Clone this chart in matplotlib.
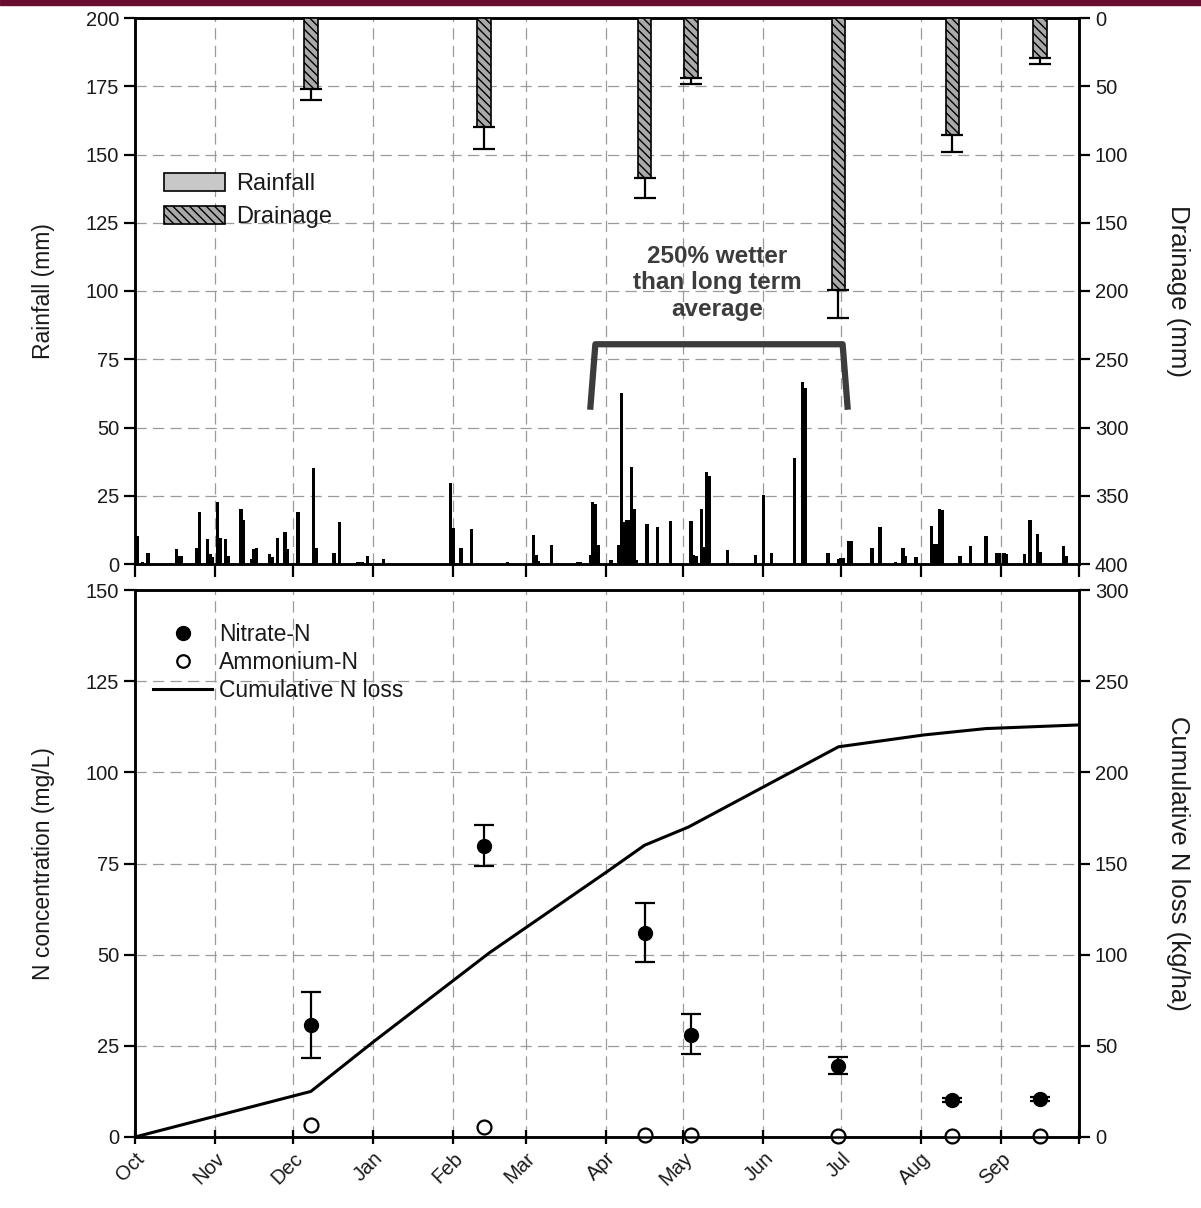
import matplotlib
matplotlib.use("Agg")
import matplotlib.pyplot as plt
import numpy as np
from matplotlib.patches import Patch, Rectangle
from matplotlib.lines import Line2D

plt.rcParams['font.family'] = ['Liberation Sans', 'DejaVu Sans']
plt.rcParams['hatch.linewidth'] = 1.0

# ---------------- data ----------------
month_labels = ["Oct", "Nov", "Dec", "Jan", "Feb", "Mar", "Apr", "May", "Jun", "Jul", "Aug", "Sep"]
month_start = [0, 31, 61, 92, 123, 151, 182, 212, 243, 273, 304, 335, 365]  # days since 1 Oct

rain_day = [1, 3, 5, 16, 17, 18, 24, 25, 28, 29, 30, 32, 33, 35, 36, 41, 42, 45, 46, 47,
            52, 53, 55, 58, 59, 63, 69, 70, 77, 79, 86, 87, 88, 90, 96, 122, 123, 126, 130,
            144, 154, 155, 156, 161, 171, 172, 176, 177, 178, 179, 184, 187, 188, 189, 190,
            191, 192, 193, 194, 198, 202, 207, 215, 216, 217, 219, 220, 221, 222, 229, 240,
            243, 246, 255, 258, 259, 268, 272, 273, 274, 276, 277, 285, 288, 294, 297, 298,
            302, 308, 309, 310, 311, 312, 319, 323, 329, 333, 334, 336, 337, 344, 346, 349,
            350, 359, 360]
rain_mm = [10.3, 0.6, 3.9, 5.4, 3.0, 3.0, 6.0, 19.0, 9.0, 3.6, 2.4, 22.7, 9.7, 9.0, 3.0,
           20.3, 16.3, 1.8, 5.4, 5.7, 3.6, 2.4, 9.7, 11.7, 5.4, 19.0, 35.0, 6.0, 3.9, 15.5,
           0.6, 0.6, 0.6, 3.0, 1.8, 29.6, 13.3, 6.0, 12.7, 0.8, 10.6, 3.4, 1.0, 7.0, 0.6,
           0.6, 3.4, 22.7, 22.0, 7.0, 1.3, 7.0, 62.6, 15.5, 16.0, 16.0, 35.4, 20.3, 1.6,
           14.5, 13.6, 15.8, 15.8, 3.4, 2.8, 20.3, 6.4, 33.8, 32.4, 5.0, 3.4, 25.4, 4.2,
           39.0, 66.5, 64.6, 4.2, 1.8, 2.2, 2.2, 8.6, 8.6, 5.8, 13.6, 0.6, 5.8, 2.8, 2.4,
           13.9, 7.2, 7.2, 20.3, 19.6, 3.0, 6.6, 10.3, 3.9, 3.9, 3.9, 3.6, 3.6, 16.3, 10.9,
           4.5, 6.6, 3.0]

event_day = [68, 135, 197, 215, 272, 316, 350]
drainage_mm = [52, 80, 117, 44, 199, 86, 29]
drainage_err = [8, 16, 15, 4, 21, 12, 5]

nitrate = [30.7, 79.9, 55.9, 28.0, 19.6, 10.1, 10.4]
nitrate_err_lo = [9.1, 5.5, 7.9, 5.2, 2.3, 0.6, 0.6]
nitrate_err_hi = [9.1, 5.6, 8.4, 5.7, 2.4, 0.6, 0.6]
ammonium = [3.3, 2.8, 0.6, 0.5, 0.4, 0.4, 0.3]

cum_day = [0, 68, 92, 137, 183, 197, 214, 272, 305, 329, 365]
cum_loss = [0, 25, 52, 101, 146, 160, 170, 214, 220.5, 224, 226]

# ---------------- figure ----------------
W, H = 1201, 1208
fig = plt.figure(figsize=(W / 100, H / 100), dpi=100)
fig.patches.append(Rectangle((0, 1 - 5 / H), 1, 5 / H, transform=fig.transFigure,
                             color='#6b0d30', zorder=10))

left, width = 135 / W, 944 / W
ax1 = fig.add_axes([left, 1 - 564 / H, width, 546 / H])
ax2 = ax1.twinx()
ax3 = fig.add_axes([left, 1 - 1137 / H, width, 547 / H])
ax4 = ax3.twinx()

txt = '#1a1a1a'
grid_kw = dict(color='#9a9a9a', linestyle=(0, (9, 5)), linewidth=0.9)
tick_fs = 14.5

for ax in (ax1, ax3):
    ax.set_xlim(0, 365)
    ax.set_xticks(month_start)
    ax.grid(True, **grid_kw)
    ax.set_axisbelow(True)

for ax in (ax1, ax2, ax3, ax4):
    for s in ax.spines.values():
        s.set_linewidth(1.8)
    ax.tick_params(labelsize=tick_fs, labelcolor=txt, width=1.6, length=8)

# ---- top panel ----
ax1.bar(rain_day, rain_mm, width=1.3, color='black', zorder=3)
ax1.set_ylim(0, 200)
ax1.set_yticks(np.arange(0, 201, 25))
ax1.set_xticklabels([])
ax1.tick_params(axis='x', direction='out', length=9)
ax1.set_ylabel("Rainfall (mm)", fontsize=16.5, color=txt, labelpad=22)

ax2.bar(event_day, drainage_mm, width=5.2, color='#a9a9a9', edgecolor='black',
        hatch='\\\\\\\\', linewidth=1.2, zorder=3)
ax2.errorbar(event_day, drainage_mm, yerr=[np.zeros(len(drainage_err)), drainage_err],
             fmt='none', ecolor='black', elinewidth=1.6, capsize=8, capthick=1.6, zorder=4)
ax2.set_ylim(400, 0)
ax2.set_yticks(np.arange(0, 401, 50))
ax2.set_ylabel("Drainage (mm)", fontsize=18.5, color=txt, rotation=270, labelpad=44)

leg1 = ax1.legend(handles=[Patch(facecolor='#c8c8c8', edgecolor='black', linewidth=1.2),
                           Patch(facecolor='#a9a9a9', edgecolor='black', hatch='\\\\\\\\',
                                 linewidth=1.2)],
                  labels=["Rainfall", "Drainage"], loc='upper left',
                  bbox_to_anchor=(0.008, 0.755), frameon=False, fontsize=17,
                  handlelength=2.6, handleheight=0.8, handletextpad=0.45, labelspacing=0.45)
for t in leg1.get_texts():
    t.set_color(txt)

# annotation bracket
ax1.plot([176, 178, 273.6, 275.6], [56.5, 80.5, 80.5, 56.5], color='#3c3c3c', lw=4.5,
         solid_joinstyle='round', solid_capstyle='butt', zorder=5)
ax1.text(225, 103, "250% wetter\nthan long term\naverage", ha='center', va='center',
         fontsize=17.5, fontweight='bold', color='#3c3c3c', linespacing=1.2, zorder=5)

# ---- bottom panel ----
ax3.errorbar(event_day, nitrate, yerr=[nitrate_err_lo, nitrate_err_hi], fmt='o',
             color='black', ms=10, elinewidth=1.6, capsize=7, capthick=1.6, zorder=4)
ax3.plot(event_day, ammonium, 'o', mfc='white', mec='black', mew=1.6, ms=10, zorder=4,
         clip_on=False)
ax3.set_ylim(0, 150)
ax3.set_yticks(np.arange(0, 151, 25))
ax3.set_xticklabels(month_labels + [""], rotation=45, ha='right', rotation_mode='anchor',
                    fontsize=14.5)
ax3.tick_params(axis='x', direction='inout', length=10)
ax3.set_ylabel("N concentration (mg/L)", fontsize=16.5, color=txt, labelpad=22)

ax4.plot(cum_day, cum_loss, color='black', lw=2.2, zorder=3)
ax4.set_ylim(0, 300)
ax4.set_yticks(np.arange(0, 301, 50))
ax4.set_ylabel("Cumulative N loss (kg/ha)", fontsize=18.5, color=txt, rotation=270,
               labelpad=44)

leg2 = ax3.legend(handles=[Line2D([], [], marker='o', ls='none', color='black', ms=10),
                           Line2D([], [], marker='o', ls='none', mfc='white', mec='black',
                                  mew=1.6, ms=9),
                           Line2D([], [], color='black', lw=2.2)],
                  labels=["Nitrate-N", "Ammonium-N", "Cumulative N loss"],
                  loc='upper left', bbox_to_anchor=(-0.003, 0.978), frameon=False,
                  fontsize=16.5, handlelength=2.6, handletextpad=0.3, labelspacing=0.22)
for t in leg2.get_texts():
    t.set_color(txt)

fig.savefig("out.png", dpi=100)
